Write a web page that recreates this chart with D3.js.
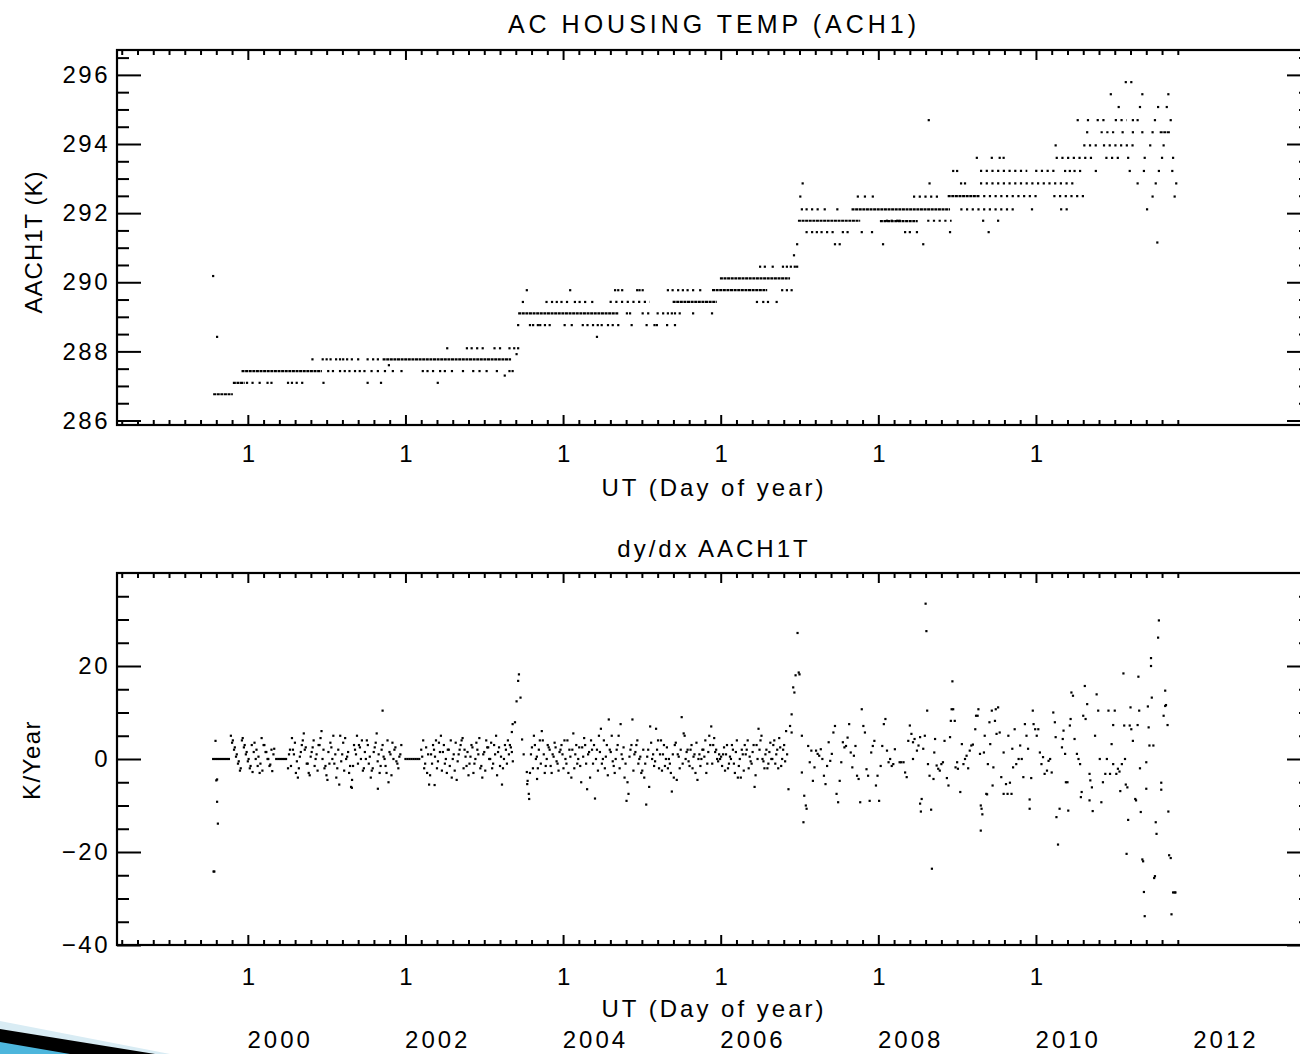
<!DOCTYPE html>
<html><head><meta charset="utf-8">
<script src="https://cdn.jsdelivr.net/npm/d3@7"></script>
<style>
body{margin:0;background:#fff}
svg text{font-family:"Liberation Sans",Arial,sans-serif;fill:#000}
</style>
</head><body>
<svg id="c" width="1300" height="1054"></svg>
<script>
// ---------------- DATA ----------------
// x axis: decimal years; "1" = day 1 of year
const xMajorTicks = [2000, 2002, 2004, 2006, 2008, 2010];
const xTickLabel = "1";
const yearLabels = [2000, 2002, 2004, 2006, 2008, 2010, 2012];

const tempMajorTicks = [286, 288, 290, 292, 294, 296];
const dydxMajorTicks = [-40, -20, 0, 20];

// Top panel: dense runs of readings [tStart, tEnd, K]
const tempDenseRuns = [
 [1999.56,1999.81,286.76],[1999.81,1999.96,287.09],[1999.92,2000.94,287.43],
 [2001.71,2003.34,287.77],[2003.43,2004.70,289.10],[2005.39,2005.95,289.43],
 [2005.89,2006.59,289.77],[2005.99,2006.88,290.11],[2006.98,2007.77,291.78],
 [2007.66,2008.91,292.11],[2008.02,2008.50,291.77],[2008.88,2009.29,292.49],
 [2011.57,2011.70,294.34]
];
// Top panel: sparse runs [tStart, tEnd, K]
const tempSparseRuns = [
 [2004.59,2005.10,289.43],[2009.04,2009.76,292.11],[2009.33,2010.03,292.49],
 [2010.22,2010.62,292.49],[2009.29,2010.52,292.86],[2009.29,2009.89,293.22],
 [2009.99,2010.27,293.22],[2010.25,2010.72,293.60],[2010.88,2011.07,293.60],
 [2010.60,2010.81,293.96],[2010.85,2011.28,293.96],[2010.82,2011.00,294.34],
 [2010.77,2010.90,294.69],[2011.00,2011.15,294.69],[2008.44,2008.76,292.48],
 [2008.62,2008.93,291.78]
];
// Top panel: isolated readings [t, K]
const tempDots2000 = [
 [1999.56,290.18],[1999.61,288.42],
 [1999.99,287.09],[2000.06,287.09],[2000.15,287.09],[2000.25,287.09],[2000.30,287.09],[2000.51,287.09],[2000.56,287.09],[2000.62,287.09],[2000.69,287.09],[2000.96,287.09],[2001.52,287.09],[2001.69,287.09],[2002.41,287.09],
 [2001.02,287.43],[2001.08,287.43],[2001.17,287.43],[2001.23,287.43],[2001.29,287.43],[2001.36,287.43],[2001.42,287.43],[2001.48,287.43],[2001.57,287.43],[2001.65,287.43],[2001.74,287.43],[2001.84,287.43],[2001.95,287.43],[2002.22,287.43],[2002.28,287.43],[2002.35,287.43],[2002.44,287.43],[2002.50,287.43],[2002.59,287.43],[2002.73,287.43],[2002.86,287.43],[2002.94,287.43],[2003.03,287.43],[2003.16,287.43],[2003.32,287.43],[2003.36,287.43],
 [2000.82,287.77],[2000.95,287.77],[2001.00,287.77],[2001.05,287.77],[2001.12,287.77],[2001.17,287.77],[2001.21,287.77],[2001.26,287.77],[2001.32,287.77],[2001.40,287.77],[2001.52,287.77],[2001.59,287.77],[2001.65,287.77],
 [2002.53,288.09],[2002.78,288.09],[2002.84,288.09],[2002.91,288.09],[2002.98,288.09],[2003.13,288.09],[2003.20,288.09],[2003.32,288.09],[2003.38,288.09],[2003.43,288.09],
 [2001.79,287.60],[2003.41,287.92],[2003.26,287.30]
];
const tempDots2004 = [
 [2004.43,288.42],
 [2003.43,288.76],[2003.58,288.76],[2003.62,288.76],[2003.68,288.76],[2003.71,288.76],[2003.77,288.76],[2003.83,288.76],[2004.02,288.76],[2004.11,288.76],[2004.25,288.76],[2004.31,288.76],[2004.38,288.76],[2004.44,288.76],[2004.49,288.76],[2004.57,288.76],[2004.63,288.76],[2004.70,288.76],[2004.87,288.76],[2005.06,288.76],[2005.16,288.76],[2005.19,288.76],[2005.32,288.76],[2005.42,288.76],
 [2004.81,289.10],[2004.85,289.10],[2005.01,289.10],[2005.08,289.10],[2005.20,289.10],[2005.27,289.10],[2005.33,289.10],[2005.38,289.10],[2005.42,289.10],[2005.48,289.10],[2005.65,289.10],[2005.89,289.10],
 [2003.49,289.43],[2003.79,289.43],[2003.86,289.43],[2003.92,289.43],[2003.98,289.43],[2004.05,289.43],[2004.15,289.43],[2004.21,289.43],[2004.28,289.43],[2004.37,289.43],[2006.46,289.43],[2006.54,289.43],[2006.60,289.43],[2006.71,289.43],
 [2003.54,289.77],[2004.09,289.77],[2004.66,289.77],[2004.70,289.77],[2004.75,289.77],[2004.94,289.77],[2004.97,289.77],[2005.01,289.77],[2005.33,289.77],[2005.39,289.77],[2005.46,289.77],[2005.52,289.77],[2005.58,289.77],[2005.65,289.77],[2005.74,289.77],[2006.78,289.77],[2006.84,289.77],[2006.90,289.77],
 [2006.50,290.45],[2006.56,290.45],[2006.66,290.45],[2006.79,290.45],[2006.84,290.45],[2006.89,290.45],[2006.94,290.45],[2006.97,290.45],[2006.93,290.78]
];
const tempDots2008 = [
 [2006.97,291.10],[2007.45,291.10],[2007.51,291.10],[2008.06,291.10],[2008.57,291.10],[2011.54,291.15],
 [2007.09,291.45],[2007.16,291.45],[2007.22,291.45],[2007.28,291.45],[2007.35,291.45],[2007.42,291.45],[2007.55,291.45],[2007.61,291.45],[2007.79,291.45],[2007.92,291.45],[2008.34,291.45],[2008.40,291.45],[2008.49,291.45],[2008.91,291.45],[2009.40,291.45],
 [2008.11,291.78],[2008.17,291.78],[2008.24,291.78],[2008.27,291.78],[2009.33,291.78],[2009.52,291.78],
 [2007.03,292.11],[2007.09,292.11],[2007.16,292.11],[2007.23,292.11],[2007.32,292.11],[2007.48,292.11],[2009.95,292.11],[2010.32,292.11],[2010.39,292.11],[2011.41,292.11],
 [2007.01,292.48],[2007.74,292.48],[2007.83,292.48],[2007.93,292.48],[2011.48,292.48],[2011.76,292.48],
 [2007.04,292.86],[2008.65,292.86],[2009.05,292.86],[2009.10,292.86],[2011.29,292.86],[2011.52,292.86],[2011.78,292.86]
];
const tempDots2010 = [
 [2008.95,293.22],[2009.00,293.22],[2010.37,293.22],[2010.43,293.22],[2010.49,293.22],[2010.56,293.22],[2010.76,293.22],[2011.19,293.22],[2011.37,293.22],[2011.56,293.22],[2011.73,293.22],
 [2009.25,293.60],[2009.44,293.60],[2009.54,293.60],[2009.59,293.60],[2011.17,293.60],[2011.38,293.60],[2011.60,293.60],[2011.74,293.60],
 [2010.25,293.96],[2011.45,293.96],[2011.62,293.96],
 [2010.65,294.34],[2011.10,294.34],[2011.23,294.34],[2011.35,294.34],[2011.48,294.34],
 [2008.64,294.69],[2010.53,294.69],[2010.66,294.69],[2011.23,294.69],[2011.29,294.69],[2011.51,294.69],[2011.71,294.69],
 [2011.05,295.07],[2011.32,295.07],[2011.55,295.07],[2011.66,295.07],
 [2010.95,295.44],[2011.35,295.44],[2011.68,295.44],
 [2011.14,295.79],[2011.21,295.79]
];

// Bottom panel: regularly sampled dy/dx readings (K/year)
const dydxA = [0,0,0,0,0,0,0,0,0, 5,4,2.5,1,-0.5,-2,4.5,3,1.5,0,-1.5,-2.8,3.5,2,0.5,-1,-2.5,3,1.5,0,-1.2,-2.6,2.2, 0,0,0,0,0,0];
const dydxA2 = [3.5,2,0.5,-1,-2.5,4,2.5,1,-0.5,-2,3,1.5,0,-1.5,-3,4.5,3,1.5,0,-1.5,2,1];
const dydxB = [-2,2,4.5,1,-3,-4,0.5,3,5.5,2.5,-1,-3.5,1.5,4,0,-2.5,3,6,2,-1.5,-4.5,-1,2.5,5,1,-2,-5.5,-0.5,3.5,4.5,0.5,-3,-6,-1.5,2,5,3,0,-2.5,1.5,4,-1,-4,-2,2.5,5.5,1,-1.5,3,0,-3,-5,1,3.5,2,-0.5,-2,1];
const dydxB2 = [1,-1.5,2,3.5,-0.5,-2,1.5,4,2,-1,-3,0.5,2.5,-1.5,1,3,4.5,0,-2,-3.5,1.5,3.5,0,-1,-4,2,5,1,-2.5,0,1.5,-1.5,-4.5,3,1,-1,2.5,4,-2,0,3,0.5,-2.5,1.5,3.5,-0.5,-3,2,0.5,-1.5,4,1.5,-3.5,0,2.5,-1,0.5,3];
const dydxC = [0,0,0,0,0,0,0,0];
const dydxD = [2,4,-1,-3,-5.5,1,3,0.5,-2,3.5,5,1.5,-1,-3,2,4,0,-2.5,-4.5,1,3,4.5,2,-1.5,-3.5,0.5,2.5,-1,3.5,1,-2,-4,1.5,4,2.5,0,-2,3,5,1.5,-1.5,-5.5,0,2,4,3,1.5];
const dydxD2 = [0.5,-2,2.5,1,-3.5,-1,2,4,-0.5,1.5,-2.5,3,0,2,-1.5,-4,1,3.5,-0.5,2,4,-2,0.5,1.5,-1,3,-3,0,2,4.5,-1.5,1,-2.5,2.5,0,3.5,-1,1,-3.5,2.5,0.5,-2,3,-1,1,2.5,-0.5];
const dydxE = [-3,2.5,5,0,-2,4,6,1, -1.5,3,2,-3,0.5,2.5,-1,1.5, 3,-2,0,4,2,-4,5.5,1, -1,2.5,-5,0.5,3,-6.5,1.5,4,
 -1,-8.5,2,5,6.5,0,-2,3, 8.5,1.5,-0.5,-3,2,5,7.5,0, -4,-9,-7.5,2,8.5,1,3,-1, 0.5,-2.5,-4,-9.8,2,7,0,-1.5,
 6.5,4,1,-2.5,3,0,-2,-1, -7,-4,3.5,1,-2,9,5.5,0, 2,-1.5,3,0.5,-3,-4.5,1,0, 2,4,-1,5,7,3,1.5,0,
 1,0.5,1,-2.5,3,-1,0,2, -3,4,-1.5,-4,1,3,2,-2, -0.5,1.5,-6,3,6.5,4,0,-2, 2,-1,3.5,0,4,1,-2,2.5, 0,3,6];
const dydxE2 = [1,-2,3,0.5,2,-1,4,-3, 0,2.5,-1.5,1,3.5,-0.5,-2.5,2, 1,4,-1,-3,0.5,2,-2,3, 0,-1.5,2.5,4.5,-1,1,-4,2,
 3,0,-2.5,1.5,-1,4,0.5,-3.5, 2,5,-1.5,0,3,-2,1,2.5, -1,-5,0.5,3,-2.5,1.5,4,0, -3,2,-1,0.5,-6,3.5,1,-0.5,
 2,-2,4,1,-1.5,2.5,0,-3, 1,3,-4.5,0.5,2,-1,5,1.5, -0.5,2,-2,1,3.5,0,-1.5,2, 0.5,-3,1.5,3,-1,4.5,2,-0.5,
 0,-1.5,2.5,1,-2,0.5,3,-1, 1.5,-4,0,2,-2.5,1,4,0.5, -1,3,-3.5,0,2,5,-0.5,1, -2,1.5,0,3,-1,2,4.5,-1.5, 2,-0.5,1];
const dydxF = [2.8,-0.7,1.8,-4.7,-1.8,1.8,1.1,0.7,2.1,0,-3.6,-5.4,-1.5,3.6,-0.4,1.1,5.7,7.1,-7.5,-9.3,-4.7,-0.7,3.6,2.5,2.8,4.6,7.5,1.4,-1.8,0.7,2.8,-3.6,-4.3,-9.3,10.7,7.1,5.7,-2.2,-3.6,-9,1.4,2.8,3.9,-5.7,-3.6,-9,-1.5,2.8,7.5,8.6,1.8,-0.7,0,-1.5,-1.1,2.1];
// [start year, sampling step (years), values]
const dydxSegments = [
 [1999.56, 0.025, dydxA], [1999.80, 0.025, dydxA2], [2000.51, 0.025, dydxB], [2000.5225, 0.025, dydxB2],
 [2002.00, 0.025, dydxC], [2002.20, 0.025, dydxD], [2002.2125, 0.025, dydxD2],
 [2003.58, 0.025, dydxE], [2003.5925, 0.025, dydxE2], [2007.11, 0.02, dydxF]
];
// Bottom panel: individual readings [t, K/year]
const dydxEarly = [[1999.565,-24.2],[1999.575,-24.2],[1999.59,3.9],[1999.60,-4.6],[1999.61,-9.2],[1999.62,-13.9],[1999.61,-4.4],[2001.32,-6.2],[2001.65,-6.4],[2001.71,10.4],[2002.37,-5.6]];
const dydxSpike2003 = [[2003.35,5.8],[2003.36,7.5],[2003.39,7.9],[2003.41,12.4],[2003.43,16.8],[2003.44,18.2],[2003.46,13.2],[2003.48,4.2],[2003.50,1],[2003.54,-2.8],[2003.545,-5.4],[2003.55,-4.7],[2003.565,-7.5],[2003.57,-8.6],[2003.67,-4.3]];
const dydxSpike2006 = [[2006.86,-6.5],[2006.88,7.1],[2006.90,9.6],[2006.90,5.7],[2006.92,15.4],[2006.935,14.3],[2006.95,18],[2006.975,27.1],[2006.99,18.6],[2007.0,18.2],[2007.03,5],[2007.03,-2.9],[2007.05,-13.6],[2007.06,-7.9],[2007.08,-10],[2007.09,-10.7]];
const dydx2008 = [
 [2008.27,-0.7],[2008.29,-0.7],[2008.32,-0.7],[2008.34,-2.9],[2008.36,-3.9],[2008.38,3.9],[2008.40,7.2],[2008.42,5.4],[2008.44,0],[2008.44,3.6],[2008.46,4.3],[2008.49,1.8],[2008.51,2.9],[2008.53,4.7],[2008.53,-9.6],[2008.55,-8.6],[2008.54,-11.3],[2008.57,2.2],[2008.59,5.0],
 [2008.60,33.4],[2008.61,27.5],[2008.62,10.4],[2008.63,-1.1],[2008.65,-3.6],[2008.67,-10.9],[2008.68,-23.6],[2008.70,-4.3],[2008.71,1.4],[2008.72,4.3],[2008.74,-1.4],[2008.76,-2.1],[2008.78,-2.5],[2008.80,-1.1],[2008.82,-0.7],[2008.84,3.9],[2008.87,-4.1],[2008.89,-5.7],[2008.91,4.7],[2008.92,8.2],[2008.94,16.7],[2008.93,10.7],[2008.95,10.7],[2008.97,8.2],[2008.98,-1.8],[2009.00,-0.7],[2009.01,-2.1],[2009.04,-7.1],[2009.06,3.2],[2009.08,-1.1],
 [2009.10,0],[2009.12,0.7],[2009.14,-2.0],[2009.16,1.8],[2009.18,2.9],[2009.20,3.1],[2009.23,6.4],[2009.24,9.3],[2009.26,9.3],[2009.27,10.7],[2009.29,1.1],[2009.30,-15.4],[2009.30,-10.0],[2009.31,-10.7],[2009.32,-11.9],[2009.34,1.4],[2009.35,5.0],[2009.37,-7.5],[2009.38,-7.6],[2009.39,-1.1],[2009.41,7.9],[2009.42,3.2],[2009.44,10.4],[2009.45,-5.7],[2009.46,-1.8],[2009.48,8.2],[2009.49,10.7],[2009.50,5.4],[2009.52,11.1],[2009.54,5.7],[2009.56,-3.9],[2009.59,1.4],[2009.59,-7.5],[2009.62,-5.4],[2009.64,-7.5],[2009.65,5.0],[2009.67,-5.1],[2009.69,-7.5],[2009.70,2.2],[2009.71,-1.8],
 [2009.73,6.4],[2009.75,-1.1],[2009.78,0],[2009.80,2.9],[2009.82,0],[2009.84,-3.9],[2009.86,7.5],[2009.88,5.0],[2009.90,2.2],[2009.92,-8.7],[2009.92,-10.7],[2009.94,-4.1],[2009.96,10.4],[2009.97,7.5],[2009.99,6.4]
];
const dydx2010 = [
 [2010.01,5.0],[2010.03,6.4],[2010.05,1.4],[2010.07,-1.1],[2010.09,0.4],[2010.11,-3.2],[2010.14,-2.5],[2010.16,-0.4],[2010.18,0],[2010.20,-2.9],[2010.22,10.0],[2010.24,7.9],[2010.25,4.7],[2010.26,-12.5],[2010.28,-18.4],[2010.30,-10.7],
 [2010.33,2.5],[2010.34,4.3],[2010.35,6.1],[2010.37,1.1],[2010.38,-5.0],[2010.40,-5.0],[2010.41,-11.1],[2010.43,7.2],[2010.44,8.6],[2010.45,14.3],[2010.47,13.6],[2010.49,4.3],[2010.52,1.1],[2010.54,0],[2010.56,-1.1],[2010.57,-8.2],[2010.58,-7.1],[2010.60,9.3],[2010.62,15.7],[2010.63,8.6],[2010.65,11.8],[2010.68,-3.2],[2010.68,-8.9],[2010.69,-4.6],[2010.71,-6.1],[2010.72,-11.2],[2010.75,5.0],[2010.77,13.9],[2010.79,10.4],[2010.81,0],[2010.83,-9.3],[2010.85,-5.0],[2010.88,-3.2],[2010.90,0],[2010.92,10.4],[2010.94,-3.2],[2010.96,3.2],[2010.98,-1.1],
 [2010.98,7.3],[2011.00,10.4],[2011.02,-3.2],[2011.04,-2.1],[2011.06,-2.7],[2011.07,-6.9],[2011.09,-1.1],[2011.11,18.4],[2011.12,7.2],[2011.13,0],[2011.14,-5.5],[2011.16,-6.1],[2011.17,-13.1],[2011.15,-20.4],[2011.19,7.2],[2011.20,11.1],[2011.21,6.4],[2011.23,3.9],[2011.26,-8.6],[2011.27,-8.9],[2011.29,7.3],[2011.30,17.7],[2011.31,10.4],[2011.32,-2.0],[2011.33,-11.4],[2011.35,-21.6],[2011.36,-22.0],[2011.37,-28.6],[2011.38,-33.8],[2011.40,-6.4],[2011.40,-0.7],[2011.42,11.3],[2011.43,6.8],
 [2011.44,2.9],[2011.46,21.7],[2011.46,20.0],[2011.47,13.2],[2011.49,2.9],[2011.50,-25.6],[2011.51,-25.2],[2011.52,-13.6],[2011.53,-16.1],[2011.55,26.1],[2011.56,29.8],[2011.59,-5.1],[2011.59,-6.6],[2011.62,9.3],[2011.64,11.4],[2011.65,11.6],[2011.64,14.7],[2011.67,7.3],[2011.68,-11.3],[2011.69,-20.7],[2011.71,-21.3],[2011.72,-33.4],[2011.74,-28.7],[2011.76,-28.7],[2011.77,-28.7]
];

// ---------------- DRAWING ----------------
const svg = d3.select('#c');
svg.append('rect').attr('width',1300).attr('height',1054).attr('fill','#fff');

const P = {left:117, right:1311};
const topPanel = {top:50, bottom:425};
const botPanel = {top:573, bottom:945};

const x = d3.scaleLinear().domain([1998.34, 2013.49]).range([P.left, P.right]);
const yT = d3.scaleLinear().domain([285.87, 296.72]).range([topPanel.bottom, topPanel.top]);
const yB = d3.scaleLinear().domain([-40, 40]).range([botPanel.bottom, botPanel.top]);

const xMinorTicks = d3.range(0, 68).map(k => +(1998.4 + 0.2*k).toFixed(2)).filter(v => !xMajorTicks.includes(v));
const tempMinorTicks = d3.range(286.5, 296.6, 0.5).filter(v => !tempMajorTicks.includes(v));
const dydxMinorTicks = d3.range(-35, 40, 5).filter(v => v % 20 !== 0);

function styleAxis(g, fs, ls) {
  g.attr('font-family', null).attr('font-size', null);
  g.select('.domain').remove();
  g.selectAll('line').attr('stroke', '#000').attr('stroke-width', 2);
  g.selectAll('text').style('font-size', fs + 'px').style('letter-spacing', ls + 'px').attr('fill', '#000');
}

function drawFrame(panel, y, yMajor, yMinor, yFmt, xPad) {
  const gB = (ticks, size, fmt, pad) => svg.append('g').attr('transform', `translate(0,${panel.bottom})`)
    .call(d3.axisBottom(x).tickValues(ticks).tickSize(size).tickPadding(pad).tickFormat(fmt));
  styleAxis(gB(xMinorTicks, -5, () => '', 3), 24, 0);
  styleAxis(gB(xMajorTicks, -10, () => xTickLabel, xPad), 24, 0);
  const gT = (ticks, size) => svg.append('g').attr('transform', `translate(0,${panel.top})`)
    .call(d3.axisTop(x).tickValues(ticks).tickSize(size).tickFormat(() => ''));
  styleAxis(gT(xMinorTicks, -5), 24, 0);
  styleAxis(gT(xMajorTicks, -10), 24, 0);
  const gL = (ticks, size, fmt) => svg.append('g').attr('transform', `translate(${P.left},0)`)
    .call(d3.axisLeft(y).tickValues(ticks).tickSize(size).tickPadding(7).tickFormat(fmt));
  styleAxis(gL(yMinor, -12, () => ''), 24, 0);
  styleAxis(gL(yMajor, -24, yFmt), 24, 2.5);
  const gR = (ticks, size) => svg.append('g').attr('transform', `translate(${P.right},0)`)
    .call(d3.axisRight(y).tickValues(ticks).tickSize(size).tickFormat(() => ''));
  styleAxis(gR(yMinor, -12), 24, 0);
  styleAxis(gR(yMajor, -24), 24, 0);
  svg.append('rect').attr('x', P.left).attr('y', panel.top)
    .attr('width', P.right - P.left).attr('height', panel.bottom - panel.top)
    .attr('fill', 'none').attr('stroke', '#000').attr('stroke-width', 2.2);
}

drawFrame(topPanel, yT, tempMajorTicks, tempMinorTicks, d3.format('d'), 20);
drawFrame(botPanel, yB, dydxMajorTicks, dydxMinorTicks, d3.format('d'), 23);

// ---- top panel marks
const gTop = svg.append('g');
function runs(arr, dash, w) {
  gTop.selectAll(null).data(arr).enter().append('line')
    .attr('x1', d => x(d[0])).attr('x2', d => x(d[1]))
    .attr('y1', d => yT(d[2])).attr('y2', d => yT(d[2]))
    .attr('stroke', '#000').attr('stroke-width', w).attr('stroke-dasharray', dash);
}
runs(tempDenseRuns, '3,0.6', 2.2);
runs(tempSparseRuns, '2.2,3.5', 2.2);
const allTempDots = [].concat(tempDots2000, tempDots2004, tempDots2008, tempDots2010);
gTop.selectAll(null).data(allTempDots).enter().append('rect')
  .attr('x', d => x(d[0]) - 1.1).attr('y', d => yT(d[1]) - 1.1)
  .attr('width', 2.2).attr('height', 2.2).attr('fill', '#000');

// ---- bottom panel marks
const segPoints = [];
dydxSegments.forEach(([t0, step, vals]) => vals.forEach((v, i) => segPoints.push([t0 + i*step, v])));
const allDydx = [].concat(segPoints, dydxEarly, dydxSpike2003, dydxSpike2006, dydx2008, dydx2010);
svg.append('g').selectAll('rect').data(allDydx).enter().append('rect')
  .attr('x', d => x(d[0]) - 1.1).attr('y', d => yB(d[1]) - 1.1)
  .attr('width', 2.2).attr('height', 2.2).attr('fill', '#000');

// ---- titles and labels
const cx = (P.left + P.right) / 2;
function txt(s, xx, yy, fs, ls, rot) {
  const t = svg.append('text').text(s).attr('text-anchor', 'middle')
    .style('font-size', fs + 'px').style('letter-spacing', ls + 'px');
  if (rot) t.attr('transform', `translate(${xx},${yy}) rotate(-90)`);
  else t.attr('x', xx).attr('y', yy);
  return t;
}
txt('AC HOUSING TEMP (ACH1)', cx, 33, 25, 4);
txt('UT (Day of year)', cx, 496, 24, 3);
txt('dy/dx AACH1T', cx, 557, 24, 3);
txt('UT (Day of year)', cx, 1017, 24, 3);
txt('AACH1T (K)', 42, 242, 24, 1, true);
txt('K/Year', 40, 760, 24, 1.5, true);
svg.append('g').selectAll('text').data(yearLabels).enter().append('text')
  .attr('x', d => x(d + 0.41)).attr('y', 1048).attr('text-anchor', 'middle')
  .style('font-size', '24px').style('letter-spacing', '3px').text(d => d);

// ---- decorative corner swoosh
const deco = svg.append('g');
deco.append('path').attr('d', 'M0,1021 L170,1054 L0,1054 Z').attr('fill', '#d9ecf4');
deco.append('path').attr('d', 'M0,1029 L155,1054 L0,1054 Z').attr('fill', '#000');
deco.append('path').attr('d', 'M0,1042 L70,1054 L0,1054 Z').attr('fill', '#4db6dc');
</script>
</body></html>
